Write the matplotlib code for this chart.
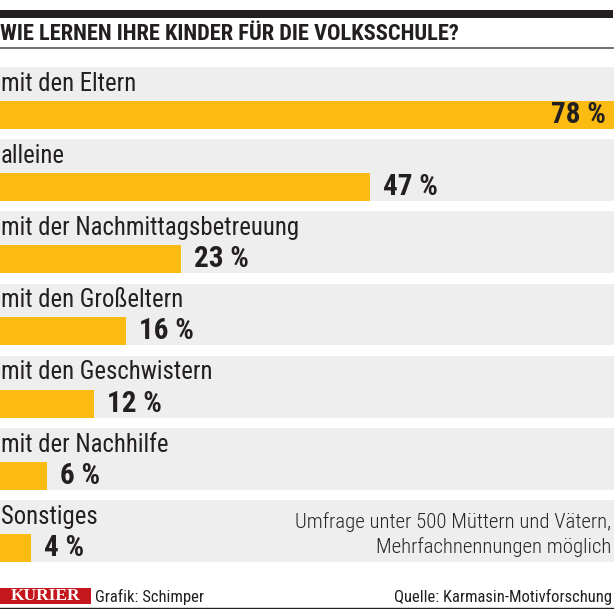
import matplotlib
matplotlib.use("Agg")
import matplotlib.pyplot as plt

# Data
categories = [
    "mit den Eltern",
    "alleine",
    "mit der Nachmittagsbetreuung",
    "mit den Großeltern",
    "mit den Geschwistern",
    "mit der Nachhilfe",
    "Sonstiges",
]
values = [78, 47, 23, 16, 12, 6, 4]
value_labels = ["78 %", "47 %", "23 %", "16 %", "12 %", "6 %", "4 %"]

title = "WIE LERNEN IHRE KINDER FÜR DIE VOLKSSCHULE?"
note_lines = ["Umfrage unter 500 Müttern und Vätern,", "Mehrfachnennungen möglich"]
credit = "Grafik: Schimper"
source = "Quelle: Karmasin-Motivforschung"

YELLOW = "#fbbb10"
BAND = "#efeeef"
INK = "#231f20"
FONT = ["Roboto Condensed", "DejaVu Sans"]
TXT = dict(family=FONT, stretch="condensed")

W, H = 616, 609
fig = plt.figure(figsize=(W / 100, H / 100), dpi=100)

# bar axes
band_h = 62 / 72.17
bar_h = 28 / 72.17
ax = fig.add_axes([0, (H - 562) / H, 614 / W, 495 / H])
ax.patch.set_alpha(0)
ax.set_xlim(0, max(values))
ax.set_ylim(len(values) - 1 + band_h, 0)
ax.axis("off")

for i, (cat, val, lab) in enumerate(zip(categories, values, value_labels)):
    ax.axhspan(i, i + band_h, color=BAND, lw=0, zorder=0)
    ax.barh(i + band_h - bar_h / 2, val, height=bar_h, color=YELLOW,
            lw=0, zorder=1)
    ax.annotate(cat, (0, i + 0.33), xytext=(1, 0), textcoords="offset pixels",
                fontsize=17.8, color=INK, va="baseline", ha="left", **TXT)
    if i == 0:
        ax.annotate(lab, (val, i + band_h - bar_h / 2), xytext=(-8, 0),
                    textcoords="offset pixels", fontsize=21, fontweight="bold",
                    color=INK, va="center", ha="right", zorder=2, **TXT)
    else:
        ax.annotate(lab, (val, i + band_h - bar_h / 2), xytext=(13, 0),
                    textcoords="offset pixels", fontsize=21, fontweight="bold",
                    color=INK, va="center", ha="left", zorder=2, **TXT)

# overlay axes in pixel coordinates for header / footer / note
deco = fig.add_axes([0, 0, 1, 1])
deco.patch.set_alpha(0)
deco.set_xlim(0, W)
deco.set_ylim(H, 0)
deco.axis("off")

deco.fill_between([0, 613], 10, 18, color=INK, lw=0)
deco.plot([0, 613], [48, 48], color="#555555", lw=1.2)
deco.text(0, 40, title, fontsize=16.2, fontweight="bold", color=INK,
          va="baseline", ha="left", **TXT)

deco.text(611, 528, note_lines[0], fontsize=15, fontweight="light",
          color="#262626", va="baseline", ha="right", **TXT)
deco.text(611, 553, note_lines[1], fontsize=15, fontweight="light",
          color="#262626", va="baseline", ha="right", **TXT)

# footer
deco.fill_between([0, 91], 588, 604, color="#c4161c", lw=0)
deco.text(45.5, 600, "KURIER", fontsize=12.5, fontweight="bold", color="white",
          family=["Liberation Serif", "DejaVu Serif"], va="baseline",
          ha="center")
deco.text(95, 602, credit, fontsize=12, color=INK, va="baseline", **TXT)
deco.text(612, 602, source, fontsize=12, color=INK, va="baseline",
          ha="right", **TXT)
deco.plot([0, 613], [607.5, 607.5], color=INK, lw=1)

fig.savefig("out.png", dpi=100)
